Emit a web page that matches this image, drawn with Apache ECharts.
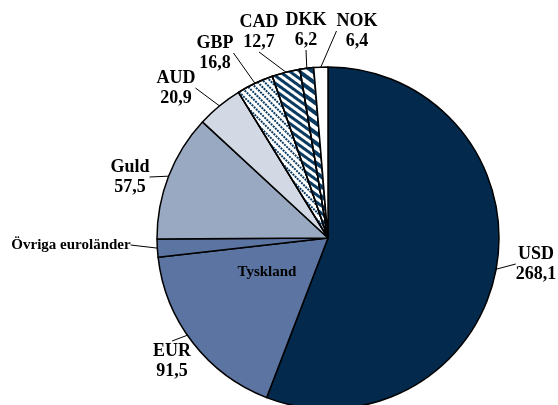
<!DOCTYPE html>
<html>
<head>
<meta charset="utf-8">
<script src="https://cdn.jsdelivr.net/npm/echarts@6/dist/echarts.min.js"></script>
<style>
  html, body { margin: 0; padding: 0; background: #fff; }
  #chart { width: 558px; height: 405px; }
</style>
</head>
<body>
<div id="chart"></div>
<script>
// valutafördelning (miljarder kr)
const currencies = ['USD', 'EUR', 'Guld', 'AUD', 'GBP', 'CAD', 'DKK', 'NOK'];
const amounts = [268.1, 91.5, 57.5, 20.9, 16.8, 12.7, 6.2, 6.4];
// EUR delas upp
const euroParts = ['Tyskland', 'Övriga euroländer'];
const euroAmounts = [83.4, 8.1];

const NAVY = '#0b3a61';
const fills = {
    USD: { color: '#03294d' },
    EUR: { color: '#5b74a1' },
    Guld: { color: '#98a9c1' },
    AUD: { color: '#d2d9e4' },
    GBP: { color: '#ffffff', decal: { symbol: 'rect', color: NAVY, dashArrayX: [1.6, 0.9], dashArrayY: [1.6, 2.2], rotation: Math.PI / 4 } },
    CAD: { color: '#ffffff', decal: { symbol: 'rect', color: NAVY, dashArrayX: [1, 0], dashArrayY: [3, 3], rotation: Math.PI / 5 } },
    DKK: { color: '#ffffff', decal: { symbol: 'rect', color: NAVY, dashArrayX: [1, 0], dashArrayY: [4, 4], rotation: Math.PI / 5 } },
    NOK: { color: '#ffffff' }
};

// etikettplacering (textblockets mitt)
const labelPos = {
    USD: [536, 264], EUR: [172, 361], Guld: [130, 177], AUD: [176, 88],
    GBP: [215, 53], CAD: [259, 32], DKK: [306, 30], NOK: [357, 31]
};
const euroLabelPos = [[267, 272], [71, 245]];

const fmt = v => v.toFixed(1).replace('.', ',');
const font = { fontFamily: 'Liberation Serif, Times New Roman, serif', fontWeight: 'bold', color: '#000' };

// skivor
let sliceData = [];
let euroIndex = {};
currencies.forEach((c, i) => {
    if (c === 'EUR') {
        euroParts.forEach((p, j) => {
            euroIndex[sliceData.length] = j;
            sliceData.push({
                name: p, value: euroAmounts[j],
                itemStyle: Object.assign({}, fills.EUR),
                label: Object.assign({ show: true, position: j === 0 ? 'inside' : 'outside', fontSize: 15, formatter: '{b}' }, font),
                labelLine: { show: j !== 0 }
            });
        });
    } else {
        sliceData.push({ name: c, value: amounts[i], itemStyle: Object.assign({}, fills[c]) });
    }
});

// etiketter för valutor
let labelData = currencies.map((c, i) => ({ name: c, value: amounts[i] }));

const chart = echarts.init(document.getElementById('chart'));
chart.setOption({
    animation: false,
    series: [
        {
            type: 'pie',
            center: [328, 238],
            radius: 171,
            startAngle: 90,
            clockwise: true,
            silent: true,
            itemStyle: { borderColor: '#000', borderWidth: 1.5 },
            label: { show: false, overflow: 'none' },
            labelLine: { show: false, length: 10, length2: 0, lineStyle: { color: '#000', width: 1 } },
            labelLayout: params => {
                const j = euroIndex[params.dataIndex];
                if (j === undefined) return {};
                const p = euroLabelPos[j];
                return { x: p[0], y: p[1], align: 'center', verticalAlign: 'middle' };
            },
            data: sliceData
        },
        {
            type: 'pie',
            center: [328, 238],
            radius: 171,
            startAngle: 90,
            clockwise: true,
            silent: true,
            itemStyle: { color: 'rgba(0,0,0,0)', borderWidth: 0 },
            label: Object.assign({
                show: true, position: 'outside', fontSize: 18, lineHeight: 20, align: 'center',
                overflow: 'none', edgeDistance: 0, bleedMargin: 0,
                formatter: p => p.name + '\n' + fmt(p.value)
            }, font),
            labelLine: { show: true, length: 10, length2: 0, lineStyle: { color: '#000', width: 1 } },
            labelLayout: params => {
                const p = labelPos[currencies[params.dataIndex]];
                return { x: p[0], y: p[1], align: 'center', verticalAlign: 'middle' };
            },
            data: labelData
        }
    ]
});
</script>
</body>
</html>
